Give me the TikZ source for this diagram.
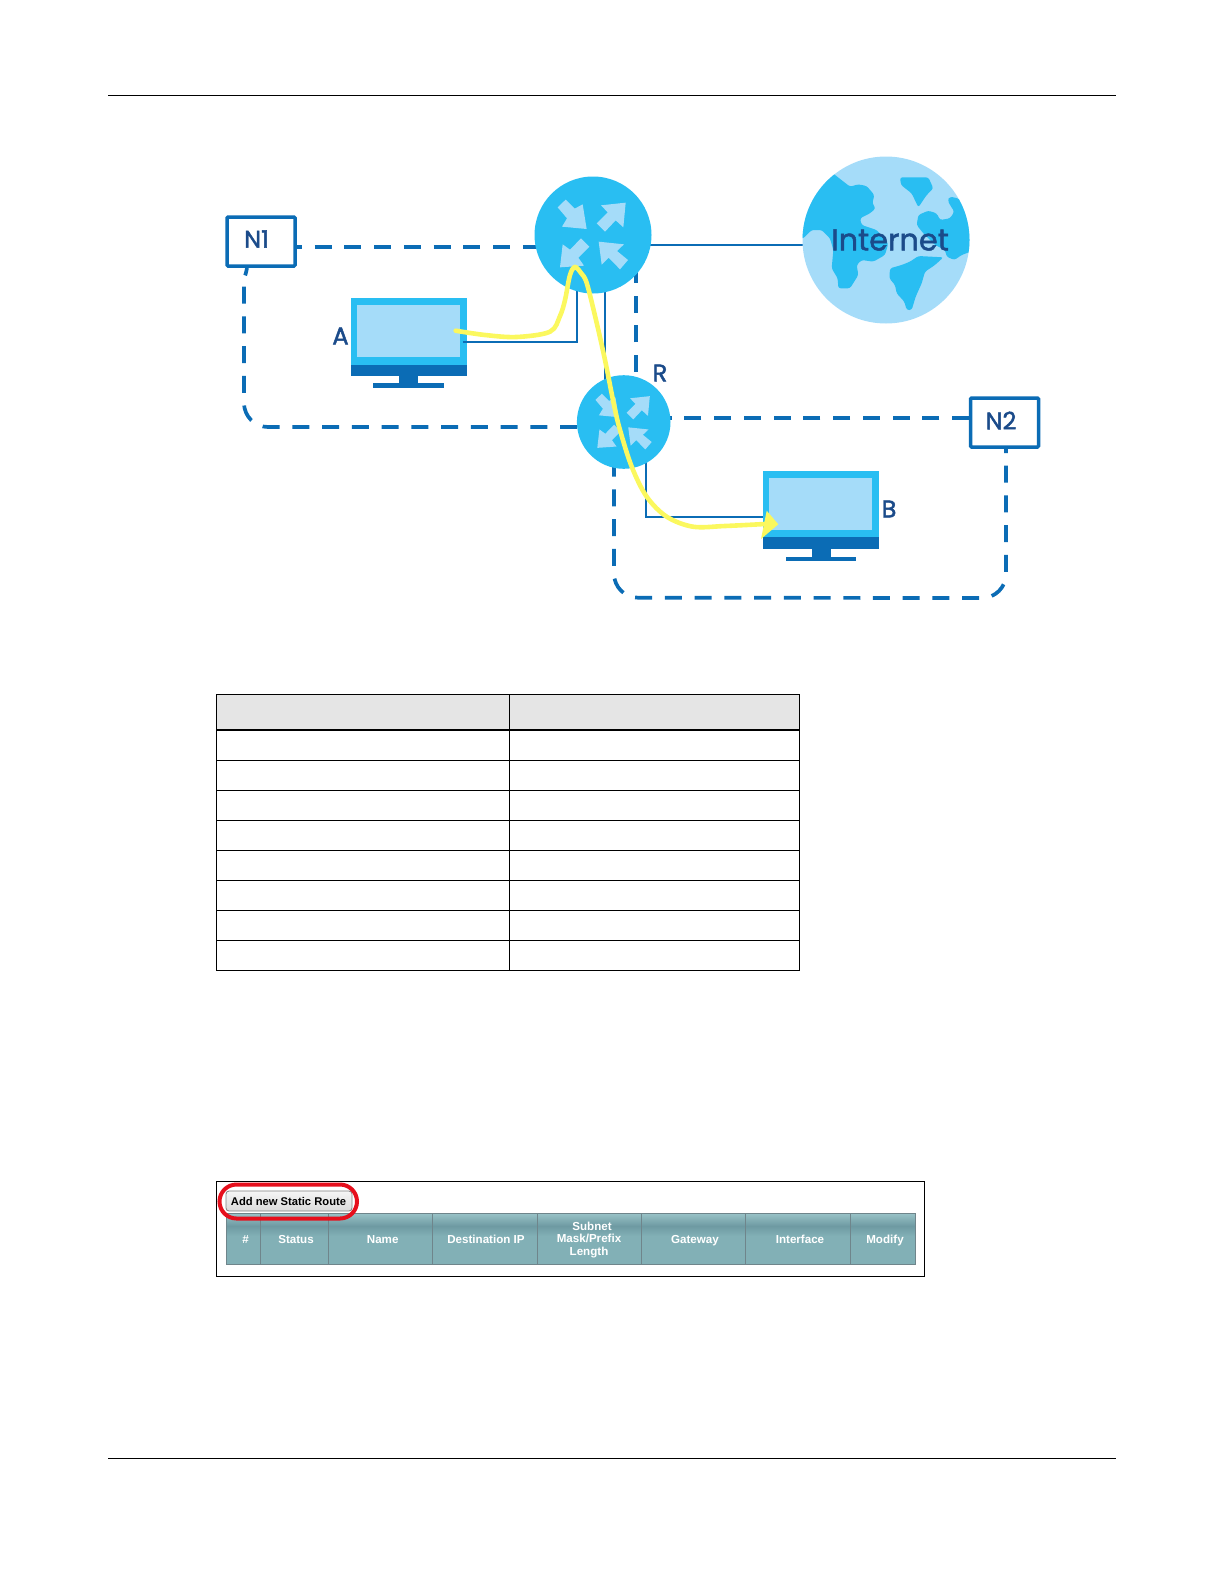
\documentclass[tikz,border=0pt]{standalone}
\usepackage{fontspec}
\setmainfont{Liberation Sans}
\newfontfamily\labfont{Poppins}[FakeBold=2]
\newfontfamily\inetfont{Poppins}[FakeBold=1.5]
\usetikzlibrary{backgrounds}
\definecolor{netdark}{HTML}{0B6CB5}
\definecolor{netcyan}{HTML}{29BEF2}
\definecolor{netlight}{HTML}{A5DCF9}
\definecolor{netnavy}{HTML}{1B4B8A}
\definecolor{netyellow}{HTML}{FBF85E}
\definecolor{redring}{HTML}{E60F1C}
\definecolor{hdtop}{HTML}{98C2C6}
\definecolor{hdmid}{HTML}{6E9AA2}
\definecolor{hdlow}{HTML}{82B0B6}
\definecolor{hdline}{HTML}{6F858B}
\pgfdeclarelayer{links}
\pgfsetlayers{links,main}
\tikzset{
  routernode/.style={circle,fill=netcyan,minimum size=#1,inner sep=0pt},
  netbox/.style={draw=netdark,line width=1.75pt,fill=white,minimum width=34pt,minimum height=24.5pt,inner sep=0pt,rounded corners=.5pt},
  dashlink/.style={draw=netdark,line width=1.85pt,dash pattern=on 8.5pt off 6.37pt},
  solidlink/.style={draw=netdark,line width=1.15pt},
  netlabel/.style={text=netnavy,font=\labfont\fontsize{12}{12}\selectfont,inner sep=0pt},
  hdtext/.style={text=white,font=\bfseries\fontsize{5.8}{6.35}\selectfont,inner sep=0pt,align=center},
  gridline/.style={draw=black,line width=.6pt},
  rule/.style={draw=black,line width=.5pt},
  arrowpoly/.style={fill=netlight},
  continent/.style={fill=netcyan,rounded corners=1.2pt},
}
\newcommand{\routerarrows}{%
  \fill[arrowpoly] (-106,-83)--(-82,-106)--(-55,-79)--(-31,-92)--(-19,-18)--(-93,-25)--(-78,-50)--cycle;
  \fill[arrowpoly] (98,-97)--(91,-23)--(68,-44)--(36,-10)--(11,-35)--(44,-68)--(24,-89)--cycle;
  \fill[arrowpoly] (-99,97)--(-91,28)--(-69,44)--(-36,10)--(-11,35)--(-44,68)--(-27,92)--cycle;
  \fill[arrowpoly] (17,20)--(93,28)--(72,48)--(105,75)--(81,103)--(47,68)--(26,89)--cycle;
}
\begin{document}
\begin{tikzpicture}[x=.5pt,y=-.5pt]
\useasboundingbox (0,0) rectangle (1224,1584);
% page rules
\coordinate (rt1) at (108,95.3); \coordinate (rt2) at (1116,95.3);
\coordinate (rb1) at (108,1458.3); \coordinate (rb2) at (1116,1458.3);
\draw[rule] (rt1)--(rt2);
\draw[rule] (rb1)--(rb2);

% routers and boxes
\node[routernode=58.5pt] (r1) at (593,235) {};
\node[routernode=46.8pt] (r2) at (623.7,422) {};
\begin{scope}[shift={(593,235)},x=.1667pt,y=-.1667pt]\routerarrows\end{scope}
\begin{scope}[shift={(623.7,422)},x=.1333pt,y=-.1333pt]\routerarrows\end{scope}
\node[netbox] (n1) at (261,241.5) {};
\node[netbox] (n2) at (1004.5,422.5) {};
\node[netlabel] (ln1) at (256.5,239) {N1};
\node[netlabel] (ln2) at (1001,420.5) {N2};
\node[netlabel] (la) at (340.5,336) {A};
\node[netlabel] (lr) at (660,373) {R};
\node[netlabel] (lb) at (889,509) {B};

% globe
\node[circle,fill=netlight,minimum size=83.5pt,inner sep=0pt] (inet) at (886,240) {};
\begin{scope}
\clip (886,240) circle[radius=83.5];
\begin{scope}[shift={(795,150)},x=.16667pt,y=-.16667pt]
\fill[continent] (120,75)--(165,110)--(190,103)--(215,108)--(238,135)--(232,160)--(242,175)--(225,190)--(195,205)--(200,225)--(245,240)--(280,280)--(270,315)--(235,335)--(200,330)--(185,345)--(190,375)--(165,415)--(130,415)--(128,385)--(110,355)--(115,300)--(105,265)--(80,240)--(50,240)--(25,265)--(-20,270)--(-20,100)--(80,40)--cycle;
\fill[continent] (315,82)--(400,82)--(415,115)--(395,135)--(370,172)--(350,130)--(318,105)--cycle;
\fill[continent] (465,140)--(490,145)--(550,200)--(540,300)--(500,315)--(478,330)--(455,320)--(450,300)--(420,285)--(385,250)--(365,225)--(370,195)--(400,182)--(425,190)--(435,210)--(465,205)--(478,185)--(465,165)--(458,150)--cycle;
\fill[continent] (370,318)--(445,322)--(420,345)--(390,365)--(380,400)--(362,440)--(350,480)--(335,480)--(328,455)--(305,430)--(300,405)--(283,385)--(285,355)--(320,345)--(345,335)--cycle;
\end{scope}
\end{scope}
\node[text=netnavy,font=\inetfont\fontsize{15.2}{18}\selectfont,inner sep=0pt] (linet) at (890,240) {Internet};

\begin{pgfonlayer}{links}
% monitor A
\node[fill=netcyan,minimum width=58.2pt,minimum height=33.4pt,inner sep=0pt] (pca) at (409.2,331.7) {};
\fill[netlight] (357,305) rectangle (460.3,357);
\fill[netdark] (351,365) rectangle (467.3,375.7);
\fill[netdark] (399,375.7) rectangle (418.3,384);
\fill[netdark] (373.3,383) rectangle (444.3,388.3);
% monitor B
\node[fill=netcyan,minimum width=57.8pt,minimum height=33.2pt,inner sep=0pt] (pcb) at (821.2,504.2) {};
\fill[netlight] (769.3,478) rectangle (872.3,530);
\fill[netdark] (763.3,537.3) rectangle (879,549);
\fill[netdark] (811.7,549) rectangle (831,557);
\fill[netdark] (785.7,556.7) rectangle (856,561);
% link coordinates
\coordinate (a1) at (297,247); \coordinate (a2) at (560,247);
\coordinate (b1) at (577,427);
\coordinate (b2) at (268,427); \coordinate (b3) at (244,403); \coordinate (b4) at (244,277); \coordinate (b5) at (247,268);
\coordinate (c1) at (636,372); \coordinate (c2) at (636,270);
\coordinate (d1) at (969,417.7); \coordinate (d2) at (650,417.7);
\coordinate (e1) at (1006,449); \coordinate (e2) at (1006,574); \coordinate (e3) at (982,597.7);
\coordinate (e4) at (638,597.7); \coordinate (e5) at (614,574); \coordinate (e6) at (614,450);
\coordinate (f1) at (577,270); \coordinate (f2) at (577,342); \coordinate (f3) at (463,342);
\coordinate (g1) at (605,270); \coordinate (g2) at (605,400);
\coordinate (h1) at (640,244.7); \coordinate (h2) at (803,244.7);
\coordinate (i1) at (646,450); \coordinate (i2) at (646,516.7); \coordinate (i3) at (763,516.7);
% dashed links
\draw[dashlink,dash phase=6pt] (a1)--(a2);
\draw[dashlink] (b1) -- (b2) arc[start angle=90,end angle=180,radius=24] -- (b4) to[out=-90,in=-100] (b5);
\draw[dashlink] (c1)--(c2);
\draw[dashlink] (d1)--(d2);
\draw[dashlink,dash phase=6.5pt] (e1) -- (e2) arc[start angle=0,end angle=90,radius=24] -- (e4) arc[start angle=90,end angle=180,radius=24] -- (e6);
% solid links
\draw[solidlink] (f1)--(f2)--(f3);
\draw[solidlink] (g1)--(g2);
\draw[solidlink] (h1)--(h2);
\draw[solidlink] (i1)--(i2)--(i3);
\end{pgfonlayer}

% yellow route
\draw[netyellow,line width=2.3pt,line cap=round] plot[smooth,tension=.55] coordinates {(455.7,330.7)(485,335)(516.7,337)(550,331.7)(560,316)(565,300)(570,275)(575,267)(581,273)(586.7,283)(596,320)(605,360)(614,405)(620,430)(631.7,466.7)(646.7,496.7)(666.7,516.7)(693,526.7)(725,526)(765,524)};
\fill[netyellow] (778.3,524.3)--(766.7,510.7)--(761,539)--cycle;

% empty table
\fill[black!10] (216.7,694.3) rectangle (799.3,730);
\draw[gridline] (216.7,694.3) rectangle (799.3,970.3);
\draw[gridline] (509.3,694.3)--(509.3,970.3);
\foreach \yy in {730,760.3,790.3,820.3,850.3,880.5,910.3,940.3}{\draw[gridline] (216.7,\yy)--(799.3,\yy);}

% screenshot
\draw[draw=black,line width=.5pt] (216.5,1181) rectangle (924,1276.5);
\shade[top color=hdtop,bottom color=hdmid] (226.5,1213.5) rectangle (915,1226);
\shade[top color=hdmid,bottom color=hdlow] (226.5,1226) rectangle (915,1236);
\fill[hdlow] (226.5,1236) rectangle (915,1264);
\draw[hdline,line width=.5pt] (226.5,1213.5) rectangle (915,1264);
\foreach \xx in {260.7,328,432,537,641,745,850}{\draw[hdline,line width=.5pt] (\xx,1213.5)--(\xx,1264);}
\node[hdtext,anchor=base] (h-num) at (245.7,1243) {\#};
\node[hdtext,anchor=base] (h-status) at (296,1243) {Status};
\node[hdtext,anchor=base] (h-name) at (382.7,1243) {Name};
\node[hdtext,anchor=base] (h-dest) at (486,1243) {Destination IP};
\node[hdtext] (h-mask) at (589,1240) {\hspace*{3pt}Subnet\\Mask/Prefix\\Length};
\node[hdtext,anchor=base] (h-gw) at (695,1243) {Gateway};
\node[hdtext,anchor=base] (h-if) at (800,1243) {Interface};
\node[hdtext,anchor=base] (h-mod) at (885,1243) {Modify};
\shade[top color=white!96!black,bottom color=black!14,draw=black!50,line width=.4pt,rounded corners=1.5pt] (226,1191) rectangle (352,1211);
\node[text=black,font=\bfseries\fontsize{5.6}{7}\selectfont,inner sep=0pt,anchor=base] (btn) at (288.5,1205.5) {Add new Static Route};
\draw[redring,line width=2pt,rounded corners=8.5pt] (219.5,1184.5) rectangle (357,1218.5);
\end{tikzpicture}
\end{document}
